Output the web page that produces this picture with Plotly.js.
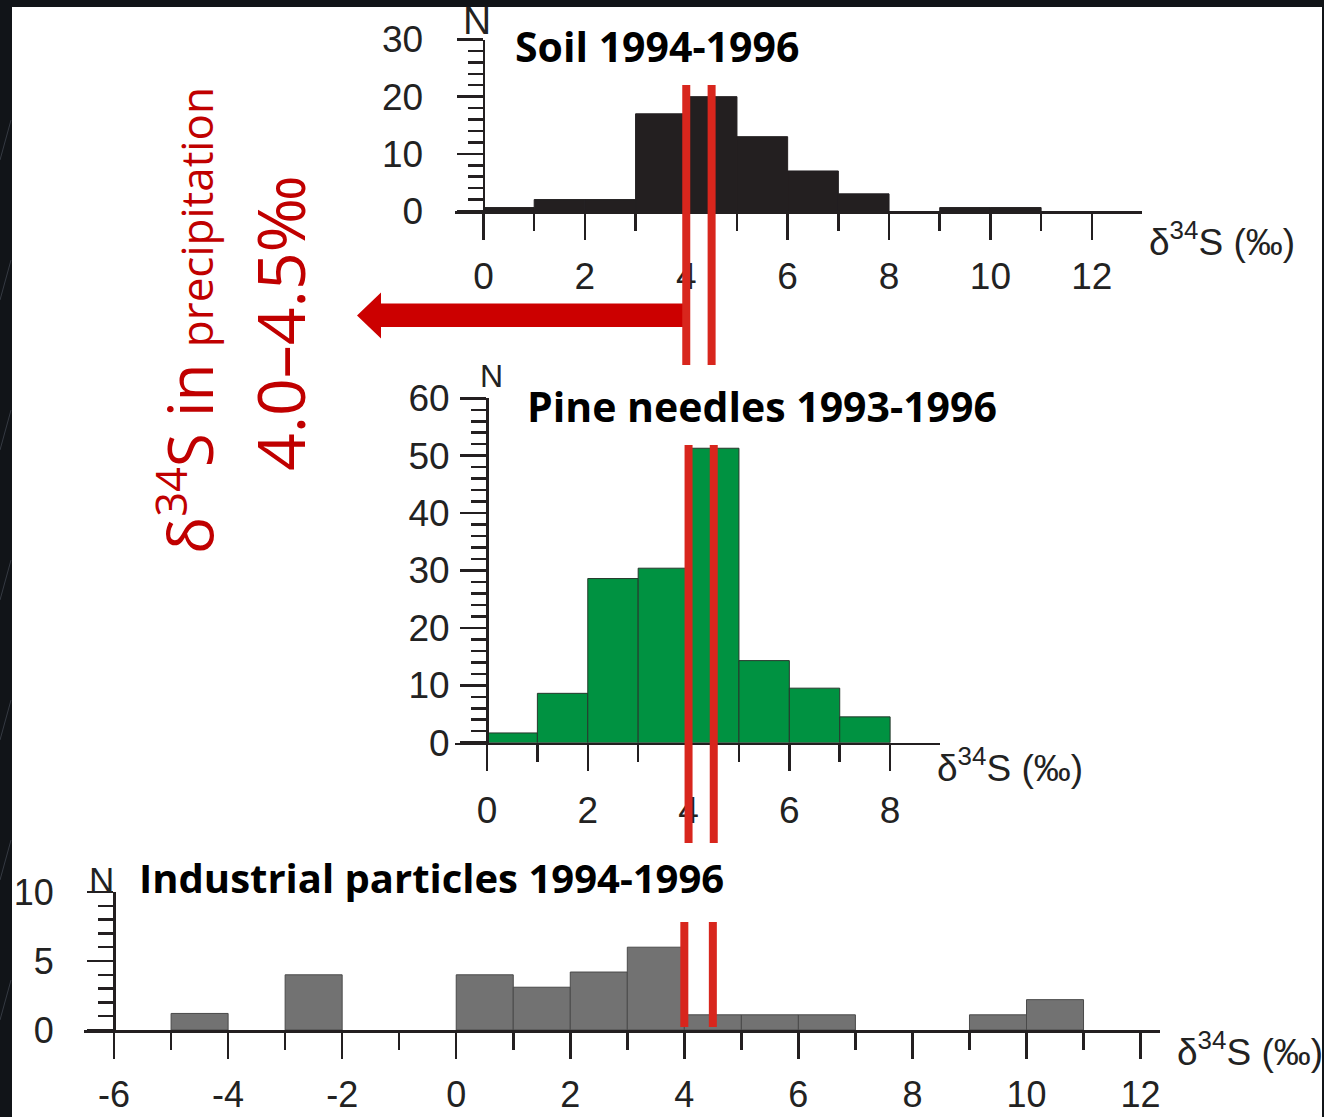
<!DOCTYPE html>
<html>
<head>
<meta charset="utf-8">
<script src="https://cdn.plot.ly/plotly-3.0.1.min.js"></script>
<style>
  html, body { margin: 0; padding: 0; background: #111418; }
  #chart { width: 1324px; height: 1117px; }
</style>
</head>
<body>
<div id="chart"></div>
<script>
// δ34S histograms (bin width 1 ‰): left edge of each bin and its count N
const soilBinStart = [0, 1, 2, 3, 4, 5, 6, 7, 9, 10];
const soilCounts   = [0.6, 2, 2, 17, 20, 13, 7, 3, 0.6, 0.6];

const pineBinStart = [0, 1, 2, 3, 4, 5, 6, 7];
const pineCounts   = [1.7, 8.6, 28.6, 30.4, 51.3, 14.3, 9.5, 4.5];

const industrialBinStart = [-5, -3, 0, 1, 2, 3, 4, 5, 6, 9, 10];
const industrialCounts   = [1.2, 4.0, 4.0, 3.1, 4.2, 6.0, 1.1, 1.1, 1.1, 1.1, 2.2];

// δ34S range measured in precipitation (‰)
const precipRange = [4.0, 4.5];

// tick labels
const soilTickVals = [0, 2, 4, 6, 8, 10, 12];
const pineTickVals = [0, 2, 4, 6, 8];
const industrialTickVals = [-6, -4, -2, 0, 2, 4, 6, 8, 10, 12];
const industrialTickText = ['-6', '-4', '-2', '0', '2', '4', '6', '8', '10', '12'];

const panelTitles = ['Soil 1994-1996', 'Pine needles 1993-1996', 'Industrial particles 1994-1996'];
const axisLabel = 'δ<sup>34</sup>S (‰)';

// page geometry helpers (pixels -> paper fractions)
const W = 1324, H = 1117;
const px = v => v / W;
const py = v => 1 - v / H;

const INK = '#231f20';
const RED_LINE = '#d8261d';
const RED_ARROW = '#cc0000';
const RED_TEXT = '#c00000';
const tickFont = (size) => ({ family: 'Liberation Sans, Arial, sans-serif', size: size, color: '#222' });

function xAxis(domain, range, anchor, tickvals, ticktext, standoff, fontSize) {
  return {
    domain: domain, range: range, anchor: anchor,
    showline: true, linecolor: INK, linewidth: 2.5,
    ticks: 'outside', ticklen: 26, tickwidth: 2.5, tickcolor: INK,
    tickmode: 'array', tickvals: tickvals, ticktext: ticktext,
    minor: { ticks: 'outside', ticklen: 17, tickwidth: 2.5, tickcolor: INK, tickmode: 'linear', tick0: 0, dtick: 1 },
    showgrid: false, zeroline: false, fixedrange: true,
    tickfont: tickFont(fontSize), ticklabelstandoff: standoff
  };
}

function yAxis(domain, range, position, dtick, minorDtick, fontSize, standoff) {
  return {
    domain: domain, range: range, anchor: 'free', position: position,
    showline: true, linecolor: INK, linewidth: 2.5,
    ticks: 'outside', ticklen: 26, tickwidth: 2.5, tickcolor: INK,
    tick0: 0, dtick: dtick,
    minor: { ticks: 'outside', ticklen: 15, tickwidth: 2.5, tickcolor: INK, tick0: 0, dtick: minorDtick },
    showgrid: false, zeroline: false, fixedrange: true,
    tickfont: tickFont(fontSize), ticklabelstandoff: standoff
  };
}

const traces = [
  {
    type: 'bar', x: soilBinStart, y: soilCounts, width: 1, offset: 0,
    xaxis: 'x', yaxis: 'y',
    marker: { color: INK, line: { color: INK, width: 1 } }
  },
  {
    type: 'bar', x: pineBinStart, y: pineCounts, width: 1, offset: 0,
    xaxis: 'x2', yaxis: 'y2',
    marker: { color: '#009241', line: { color: '#26382c', width: 1 } }
  },
  {
    type: 'bar', x: industrialBinStart, y: industrialCounts, width: 1, offset: 0,
    xaxis: 'x3', yaxis: 'y3',
    marker: { color: '#727272', line: { color: '#4a4a4a', width: 1 } }
  }
];

const shapes = [
  // white slide panel over the dark backdrop
  { type: 'rect', xref: 'paper', yref: 'paper', x0: px(12), x1: px(1322), y0: 0, y1: py(7),
    fillcolor: '#ffffff', line: { width: 0 }, layer: 'below' },
  // arrow pointing from the precipitation range to its label
  { type: 'path', xref: 'paper', yref: 'paper', layer: 'above',
    path: `M ${px(357)},${py(315.5)} L ${px(381)},${py(292.5)} L ${px(381)},${py(303.5)} ` +
          `L ${px(687)},${py(303.5)} L ${px(687)},${py(327)} L ${px(381)},${py(327)} ` +
          `L ${px(381)},${py(338.5)} Z`,
    fillcolor: RED_ARROW, line: { width: 0 } }
];

// faint streaks in the dark backdrop strip on the left
[120, 260, 410, 560, 700, 840, 980].forEach(y => {
  shapes.push({ type: 'line', xref: 'paper', yref: 'paper', layer: 'below',
    x0: 0, x1: px(11), y0: py(y + 40), y1: py(y),
    line: { color: 'rgba(120,130,145,0.35)', width: 1 } });
});

// precipitation range markers across the three panels
const segments = [
  { xref: 'x', top: 85, bottom: 365 },
  { xref: 'x2', top: 445, bottom: 843 },
  { xref: 'x3', top: 922, bottom: 1027 }
];
segments.forEach(seg => {
  precipRange.forEach(v => {
    shapes.push({ type: 'line', xref: seg.xref, yref: 'paper', x0: v, x1: v,
      y0: py(seg.bottom), y1: py(seg.top), line: { color: RED_LINE, width: 8 }, layer: 'above' });
  });
});

const titleFont = { family: 'Open Sans, sans-serif', size: 41, color: '#000' };
const nFont = (size) => ({ family: 'Liberation Sans, Arial, sans-serif', size: size, color: '#222' });
const labelFont = { family: 'Liberation Sans, Arial, sans-serif', size: 37, color: '#222' };

const annotations = [
  { text: '<b>' + panelTitles[0] + '</b>', x: px(657), y: py(46), font: titleFont },
  { text: '<b>' + panelTitles[1] + '</b>', x: px(762), y: py(406), font: titleFont },
  { text: '<b>' + panelTitles[2] + '</b>', x: px(431), y: py(877), font: { family: 'Open Sans, sans-serif', size: 40, color: '#000' } },

  { text: 'N', x: px(477), y: py(21), font: nFont(39) },
  { text: 'N', x: px(491), y: py(376), font: nFont(32) },
  { text: 'N', x: px(101), y: py(879), font: nFont(35) },

  { text: axisLabel, x: px(1222), y: py(240), font: labelFont },
  { text: axisLabel, x: px(1010), y: py(765), font: labelFont },
  { text: axisLabel, x: px(1250), y: py(1049), font: labelFont },

  { text: 'δ<sup>34</sup>S in <span style="font-size:44px">precipitation</span>',
    x: px(186), y: py(321), textangle: -90,
    font: { family: 'Open Sans, sans-serif', size: 62, color: RED_TEXT } },
  { text: precipRange[0].toFixed(1) + '–' + precipRange[1].toFixed(1) + '‰',
    x: px(279), y: py(323), textangle: -90,
    font: { family: 'Open Sans, sans-serif', size: 66, color: RED_TEXT } }
].map(a => Object.assign({ xref: 'paper', yref: 'paper', showarrow: false,
  xanchor: 'center', yanchor: 'middle' }, a));

const layout = {
  width: W, height: H, autosize: false,
  margin: { l: 0, r: 0, t: 0, b: 0, pad: 0 },
  paper_bgcolor: '#111418', plot_bgcolor: 'rgba(0,0,0,0)',
  showlegend: false, bargap: 0, hovermode: false,

  xaxis: xAxis([px(455), px(1142)], [-0.562, 12.99], 'y', soilTickVals, soilTickVals.map(String), 5, 37),
  yaxis: yAxis([py(211), py(39.5)], [0, 30], px(483.5), 10, 2, 37, 26),

  xaxis2: xAxis([px(455), px(940)], [-0.635, 8.99], 'y2', pineTickVals, pineTickVals.map(String), 7, 37),
  yaxis2: yAxis([py(742.7), py(398.3)], [0, 60], px(487), 10, 2, 37, 3),

  xaxis3: xAxis([px(84), px(1160)], [-6.527, 12.341], 'y3', industrialTickVals, industrialTickText, 5, 36),
  yaxis3: yAxis([py(1030), py(892)], [0, 10], px(114), 5, 1, 36, 26),

  shapes: shapes,
  annotations: annotations
};

Plotly.newPlot('chart', traces, layout, { staticPlot: true, displayModeBar: false });
</script>
</body>
</html>
